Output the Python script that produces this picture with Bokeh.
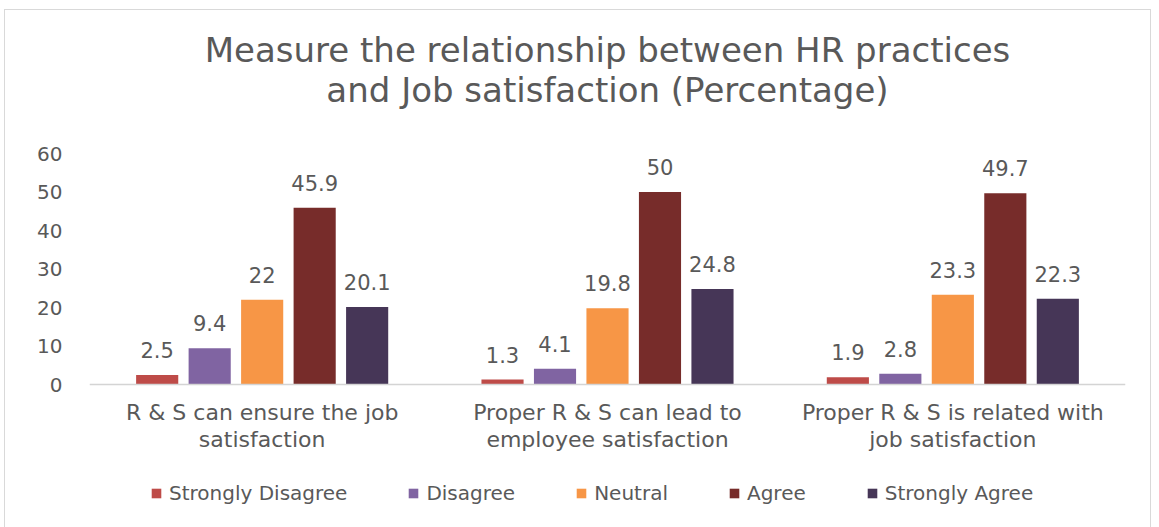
from bokeh.plotting import figure
from bokeh.models import (ColumnDataSource, FactorRange, Range1d, FixedTicker, LabelSet,
                          Legend, LegendItem, Span, Title)
from bokeh.core.properties import value
from bokeh.transform import dodge
from bokeh.embed import file_html
from bokeh.resources import INLINE

# ---- data ----
groups = ["R & S can ensure the job\nsatisfaction",
          "Proper R & S can lead to\nemployee satisfaction",
          "Proper R & S is related with\njob satisfaction"]
series = ["Strongly Disagree", "Disagree", "Neutral", "Agree", "Strongly Agree"]
strongly_disagree = [2.5, 1.3, 1.9]
disagree = [9.4, 4.1, 2.8]
neutral = [22, 19.8, 23.3]
agree = [45.9, 50, 49.7]
strongly_agree = [20.1, 24.8, 22.3]
y_ticks = [0, 10, 20, 30, 40, 50, 60]
title_line1 = "Measure the relationship between HR practices"
title_line2 = "and Job satisfaction (Percentage)"

colors = ["#BE4B48", "#8064A2", "#F79646", "#772C2A", "#463657"]
values = [strongly_disagree, disagree, neutral, agree, strongly_agree]

TEXT = "#595959"
FONT = "DejaVu Sans"

p = figure(width=1145, height=517, x_range=FactorRange(*groups, range_padding=0),
           y_range=Range1d(-37.14, 69.87), output_backend="svg", toolbar_location=None,
           min_border_left=84, min_border_right=25, min_border_top=105, min_border_bottom=0)
p.margin = (10, 0, 0, 5)
p.styles = {"outline": "1px solid #d9d9d9"}
p.outline_line_color = None
p.xgrid.grid_line_color = None
p.ygrid.grid_line_color = None
p.background_fill_color = "white"
p.border_fill_color = "white"

# title (two lines; the later-added Title sits nearest the plot)
p.title.text = title_line1
p.title.align = "center"
p.title.standoff = -16
p.title.text_font = FONT
p.title.text_font_size = "34px"
p.title.text_font_style = "normal"
p.title.text_color = TEXT
p.add_layout(Title(text=title_line2, align="center", standoff=12, text_font=FONT,
                   text_font_size="34px", text_font_style="normal", text_color=TEXT), "above")

step = 0.152
bar_w = 0.122
renderers = []
for i, (name, vals, col) in enumerate(zip(series, values, colors)):
    src = ColumnDataSource(dict(g=groups, v=vals, t=[f"{v:g}" for v in vals]))
    off = (i - 2) * step
    r = p.vbar(x=dodge("g", off, range=p.x_range), top="v", bottom=0, width=bar_w, source=src,
               fill_color=col, line_color=None)
    renderers.append((name, r))
    lbl = LabelSet(x=dodge("g", off, range=p.x_range), y="v", text="t", source=src,
                   text_align="center", text_baseline="middle", y_offset=25,
                   text_font=value(FONT), text_font_size=value("21px"),
                   text_color=TEXT)
    p.add_layout(lbl)

# baseline (category axis line)
p.add_layout(Span(location=0, dimension="width", line_color="#d4d4d4", line_width=1.5))

# category labels under the baseline
cat_src = ColumnDataSource(dict(g=groups))
p.text(x="g", y=0, text="g", source=cat_src, text_align="center", text_baseline="top",
       y_offset=15, text_font=value(FONT), text_font_size=value("22px"),
       text_color=TEXT, text_line_height=1.1)

# axes
p.xaxis.visible = False
p.yaxis.ticker = FixedTicker(ticks=y_ticks)
p.yaxis.axis_line_color = None
p.yaxis.major_tick_line_color = None
p.yaxis.minor_tick_line_color = None
p.yaxis.major_label_text_font = FONT
p.yaxis.major_label_text_font_size = "20px"
p.yaxis.major_label_text_color = TEXT
p.yaxis.major_label_standoff = 21

legend = Legend(items=[LegendItem(label=n, renderers=[r]) for n, r in renderers],
                orientation="horizontal", location=(61, 22),
                glyph_width=12, glyph_height=12, label_standoff=7, spacing=60,
                padding=0, margin=0, border_line_color=None, background_fill_alpha=0,
                label_text_font=FONT, label_text_font_size="20px",
                label_text_color=TEXT)
p.add_layout(legend)

open("out.html", "w").write(file_html(p, INLINE))
